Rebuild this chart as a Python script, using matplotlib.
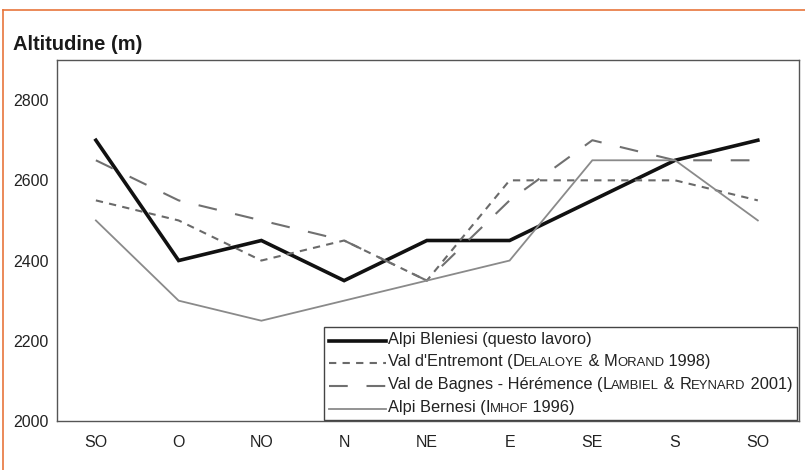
import numpy as np
import matplotlib
matplotlib.use('Agg')
import matplotlib.pyplot as plt
from matplotlib.lines import Line2D
from matplotlib.offsetbox import AnchoredOffsetbox, DrawingArea, HPacker, TextArea, VPacker

plt.rcParams['font.family'] = ['Liberation Sans', 'DejaVu Sans']

# Data
directions = ['SO', 'O', 'NO', 'N', 'NE', 'E', 'SE', 'S', 'SO']
bleniesi = [2700, 2400, 2450, 2350, 2450, 2450, 2550, 2650, 2700]
entremont = [2550, 2500, 2400, 2450, 2350, 2600, 2600, 2600, 2550]
bagnes = [2650, 2550, 2500, 2450, 2350, 2550, 2700, 2650, 2650]
bernesi = [2500, 2300, 2250, 2300, 2350, 2400, 2650, 2650, 2500]
y_ticks = [2000, 2200, 2400, 2600, 2800]

# legend text pieces, True = author name in small caps
legend_parts = [
    [("Alpi Bleniesi (questo lavoro)", False)],
    [("Val d'Entremont (", False), ("Delaloye", True), ("\u00a0&\u00a0", False),
     ("Morand", True), ("\u00a01998)", False)],
    [("Val de Bagnes - Hérémence (", False), ("Lambiel", True), ("\u00a0&\u00a0", False),
     ("Reynard", True), ("\u00a02001)", False)],
    [("Alpi Bernesi (", False), ("Imhof", True), ("\u00a01996)", False)],
]

styles = [
    dict(color='#111111', lw=2.6, ls='-'),
    dict(color='#6a6a6a', lw=1.5, ls=(0, (3.5, 3))),
    dict(color='#707070', lw=1.5, ls=(0, (9, 9))),
    dict(color='#8a8a8a', lw=1.3, ls='-'),
]

fig = plt.figure(figsize=(8.05, 4.7), dpi=100)
ax = fig.add_axes([0.0708, 0.1043, 0.922, 0.768])

x = np.arange(len(directions))
for series, st in zip([bleniesi, entremont, bagnes, bernesi], styles):
    ax.plot(x, series, **st, solid_joinstyle='miter')

ax.set_xlim(-0.47, 8.5)
ax.set_ylim(2000, 2900)
ax.set_xticks(x)
ax.set_xticklabels(directions)
ax.set_yticks(y_ticks)
ax.tick_params(axis='both', length=0, labelsize=11.5, labelcolor='#222222')
ax.tick_params(axis='x', pad=10)
ax.tick_params(axis='y', pad=6)
for sp in ax.spines.values():
    sp.set_color('#555555')
    sp.set_linewidth(1.0)

fig.text(0.016, 0.894, 'Altitudine (m)', fontsize=14.5, fontweight='bold',
         color='#1a1a1a', va='baseline')

# legend built by hand so the author names can be in small caps
fs_big, fs_small = 11.75, 9.4
rows = []
for parts, st in zip(legend_parts, styles):
    da = DrawingArea(41, 10, 0, 0)
    da.add_artist(Line2D([0, 41], [4, 4], **st))
    pieces = []
    for txt, caps in parts:
        if caps:
            pieces.append(TextArea(txt[0], textprops=dict(fontsize=fs_big, color='#222222')))
            pieces.append(TextArea(txt[1:].upper(), textprops=dict(fontsize=fs_small, color='#222222')))
        else:
            pieces.append(TextArea(txt, textprops=dict(fontsize=fs_big, color='#222222')))
    label = HPacker(children=pieces, align='baseline', pad=0, sep=0)
    rows.append(HPacker(children=[da, label], align='center', pad=0, sep=1.5))

box = VPacker(children=rows, align='left', pad=0, sep=5.5)
leg = AnchoredOffsetbox(loc='lower right', child=box, pad=0.35, borderpad=0,
                        frameon=True, bbox_to_anchor=(0.997, 0.004),
                        bbox_transform=ax.transAxes)
leg.patch.set_edgecolor('#444444')
leg.patch.set_linewidth(1.0)
leg.patch.set_boxstyle('square', pad=0)
ax.add_artist(leg)

# orange page frame
fig.add_artist(Line2D([0.004, 1.0], [0.978, 0.978], color='#e8763c', lw=1.2, transform=fig.transFigure))
fig.add_artist(Line2D([0.004, 0.004], [0.0, 0.978], color='#e8763c', lw=1.2, transform=fig.transFigure))

fig.savefig('out.png', dpi=100)
